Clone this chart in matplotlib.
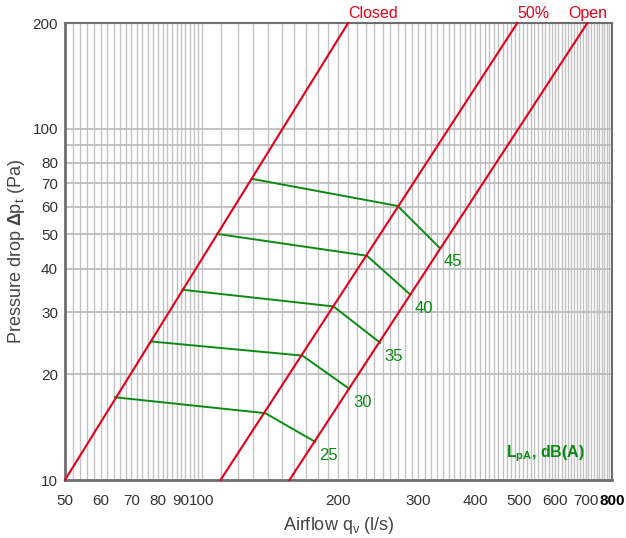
import matplotlib.pyplot as plt
import numpy as np

plt.rcParams['font.family'] = ['Liberation Sans', 'DejaVu Sans']
plt.rcParams['mathtext.fontset'] = 'custom'
plt.rcParams['mathtext.rm'] = 'Liberation Sans'
plt.rcParams['mathtext.bf'] = 'Liberation Sans:bold'
plt.rcParams['mathtext.it'] = 'Liberation Sans:italic'

# damper position lines (endpoints, l/s vs Pa)
closed_q = [50, 210]
closed_dp = [10, 200]
half_q = [110, 495]
half_dp = [10, 200]
open_q = [156, 706]
open_dp = [10, 200]

# sound level curves: points on closed, 50% and open lines
levels = [25, 30, 35, 40, 45]
lvl_q = [[64.4, 138, 177.6],
         [77.3, 166.6, 211],
         [90.8, 195, 247],
         [108, 231, 288],
         [129, 270, 334]]
lvl_dp = [[17.2, 15.5, 12.85],
          [24.8, 22.6, 18.2],
          [34.8, 31.2, 24.6],
          [50.2, 43.5, 33.7],
          [72, 60.3, 45.8]]

xticks = [50, 60, 70, 80, 90, 100, 200, 300, 400, 500, 600, 700, 800]
yticks = [10, 20, 30, 40, 50, 60, 70, 80, 100, 200]

red = '#e3001b'
green = '#0a8a12'

fig = plt.figure(figsize=(6.26, 5.38), dpi=100)
ax = fig.add_axes([0.1038, 0.1078, 0.8738, 0.8494])
ax.set_xscale('log')
ax.set_yscale('log')
ax.set_xlim(50, 800)
ax.set_ylim(10, 200)

# grid
vgrid = list(range(52, 100, 2)) + list(range(100, 800, 10))
hgrid = list(range(20, 110, 10))
for v in vgrid:
    ax.axvline(v, color='#c2c2c2', lw=1.0, zorder=1)
for h in hgrid:
    ax.axhline(h, color='#bdbdbd', lw=1.3, zorder=1)

ax.plot(closed_q, closed_dp, color=red, lw=1.5, zorder=3, clip_on=False)
ax.plot(half_q, half_dp, color=red, lw=1.5, zorder=3, clip_on=False)
ax.plot(open_q, open_dp, color=red, lw=1.5, zorder=3, clip_on=False)

for lv, qs, ds in zip(levels, lvl_q, lvl_dp):
    ax.plot(qs, ds, color=green, lw=1.4, zorder=2)
    ax.annotate(str(lv), (qs[-1], ds[-1]), xytext=(3, -10), textcoords='offset points',
                color=green, fontsize=12, ha='left', va='center')

ax.text(closed_q[1], 203, 'Closed', color=red, fontsize=11.5, ha='left', va='bottom')
ax.text(half_q[1], 203, '50%', color=red, fontsize=11.5, ha='left', va='bottom')
ax.text(open_q[1], 203, 'Open', color=red, fontsize=11.5, ha='center', va='bottom')

ax.text(0.95, 0.058, r'$\mathbf{L_{pA}}$, dB(A)', transform=ax.transAxes, color=green,
        fontsize=11.5, fontweight='bold', ha='right', va='center')

ax.minorticks_off()
ax.set_xticks(xticks)
ax.set_xticklabels([str(t) for t in xticks])
ax.set_yticks(yticks)
ax.set_yticklabels([str(t) for t in yticks])
ax.tick_params(axis='both', length=0, labelsize=11, labelcolor='#333333')
ax.tick_params(axis='x', pad=10)
ax.tick_params(axis='y', pad=5)
ax.get_xticklabels()[-1].set_fontweight('bold')
ax.get_xticklabels()[-1].set_color('black')

for s in ['left', 'bottom']:
    ax.spines[s].set_color('#6e6e6e')
    ax.spines[s].set_linewidth(2)
for s in ['top', 'right']:
    ax.spines[s].set_color('#6e6e6e')
    ax.spines[s].set_linewidth(1.5)

ax.set_xlabel(r'Airflow q$_\mathrm{v}$ (l/s)', fontsize=13, color='#444444', labelpad=5)
ax.set_ylabel(r'Pressure drop $\mathbf{\Delta}$p$_\mathrm{t}$ (Pa)', fontsize=13,
              color='#444444', labelpad=4)

fig.savefig('out.png', dpi=100)
